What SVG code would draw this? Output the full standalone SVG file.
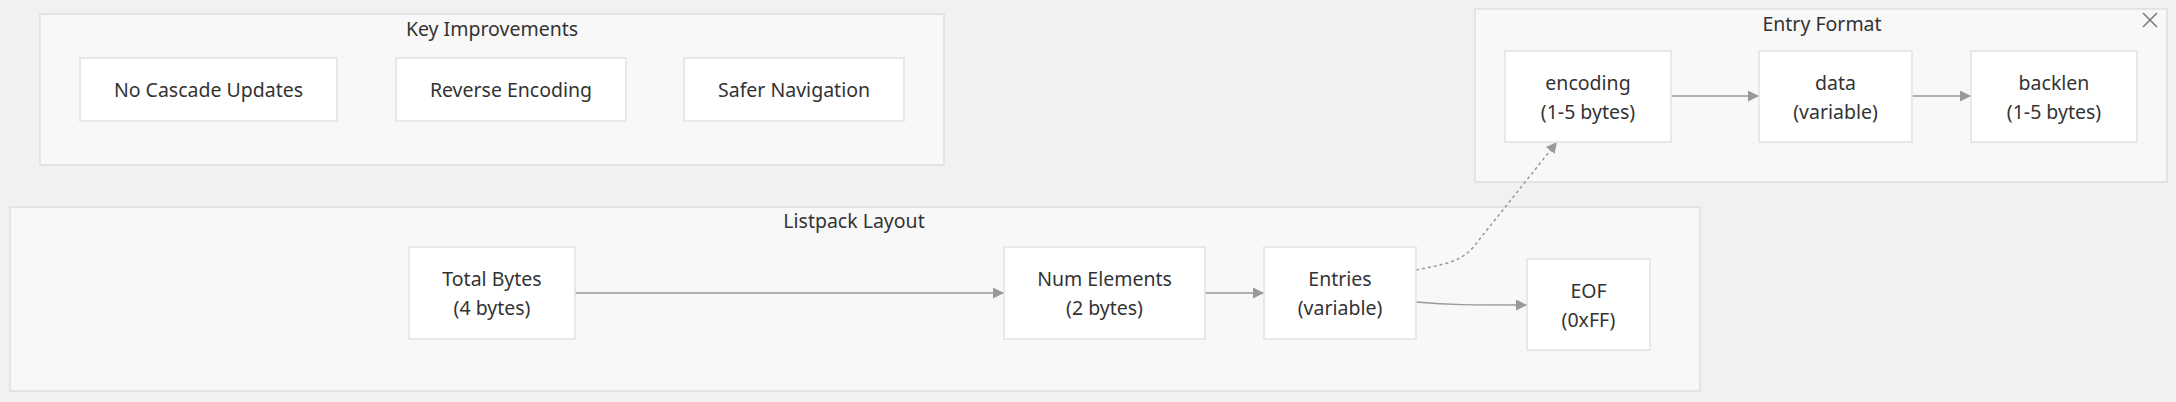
<svg xmlns="http://www.w3.org/2000/svg" width="2176" height="402" viewBox="0 0 2176 402">
<defs>
<marker id="arr" viewBox="0 0 10 10" refX="10" refY="5" markerWidth="11" markerHeight="11" markerUnits="userSpaceOnUse" orient="auto">
<path d="M0,0 L10,5 L0,10 z" fill="#999999"/>
</marker>
<style>
.cluster{fill:#f8f8f8;stroke:#dedede;stroke-width:1.5}
.node rect{fill:#ffffff;stroke:#e2e2e2;stroke-width:1.5}
text{font-family:"Noto Sans","Open Sans","DejaVu Sans",sans-serif;font-size:19.5px;fill:#333333;text-anchor:middle;dominant-baseline:central}
.edge{fill:none;stroke:#999999;stroke-width:1.5;marker-end:url(#arr)}
.dot{stroke-dasharray:3,3}
</style>
</defs>
<rect x="0" y="0" width="2176" height="402" fill="#f2f1f0"/>
<g id="cluster-key">
<rect class="cluster" x="40" y="14" width="904" height="151"/>
<text x="492" y="28.5">Key Improvements</text>
</g>
<g id="cluster-entry">
<rect class="cluster" x="1475" y="9" width="692" height="173"/>
<text x="1822" y="23.5">Entry Format</text>
<path d="M2143,13 L2157,27 M2157,13 L2143,27" stroke="#777777" stroke-width="1.5" fill="none"/>
</g>
<g id="cluster-listpack">
<rect class="cluster" x="10" y="207" width="1690" height="184"/>
<text x="854" y="220.5">Listpack Layout</text>
</g>
<g id="edges">
<path class="edge" d="M575,293 L1004,293"/>
<path class="edge" d="M1205,293 L1264,293"/>
<path class="edge" d="M1416,302 C1450,305 1470,305 1527,305"/>
<path class="edge dot" d="M1416,270 C1445,264 1462,262 1475,245 L1557,142"/>
<path class="edge" d="M1671,96 L1759,96"/>
<path class="edge" d="M1912,96 L1971,96"/>
</g>
<g id="node-cascade" class="node">
<rect x="80" y="58" width="257" height="63"/>
<text x="208.5" y="89">No Cascade Updates</text>
</g>
<g id="node-reverse" class="node">
<rect x="396" y="58" width="230" height="63"/>
<text x="511" y="89">Reverse Encoding</text>
</g>
<g id="node-safer" class="node">
<rect x="684" y="58" width="220" height="63"/>
<text x="794" y="89">Safer Navigation</text>
</g>
<g id="node-encoding" class="node">
<rect x="1505" y="51" width="166" height="91"/>
<text x="1588" y="82">encoding</text>
<text x="1588" y="111">(1-5 bytes)</text>
</g>
<g id="node-data" class="node">
<rect x="1759" y="51" width="153" height="91"/>
<text x="1835.5" y="82">data</text>
<text x="1835.5" y="111">(variable)</text>
</g>
<g id="node-backlen" class="node">
<rect x="1971" y="51" width="166" height="91"/>
<text x="2054" y="82">backlen</text>
<text x="2054" y="111">(1-5 bytes)</text>
</g>
<g id="node-total" class="node">
<rect x="409" y="247" width="166" height="92"/>
<text x="492" y="278.5">Total Bytes</text>
<text x="492" y="307.5">(4 bytes)</text>
</g>
<g id="node-num" class="node">
<rect x="1004" y="247" width="201" height="92"/>
<text x="1104.5" y="278.5">Num Elements</text>
<text x="1104.5" y="307.5">(2 bytes)</text>
</g>
<g id="node-entries" class="node">
<rect x="1264" y="247" width="152" height="92"/>
<text x="1340" y="278.5">Entries</text>
<text x="1340" y="307.5">(variable)</text>
</g>
<g id="node-eof" class="node">
<rect x="1527" y="259" width="123" height="91"/>
<text x="1588.5" y="290">EOF</text>
<text x="1588.5" y="319">(0xFF)</text>
</g>
</svg>
